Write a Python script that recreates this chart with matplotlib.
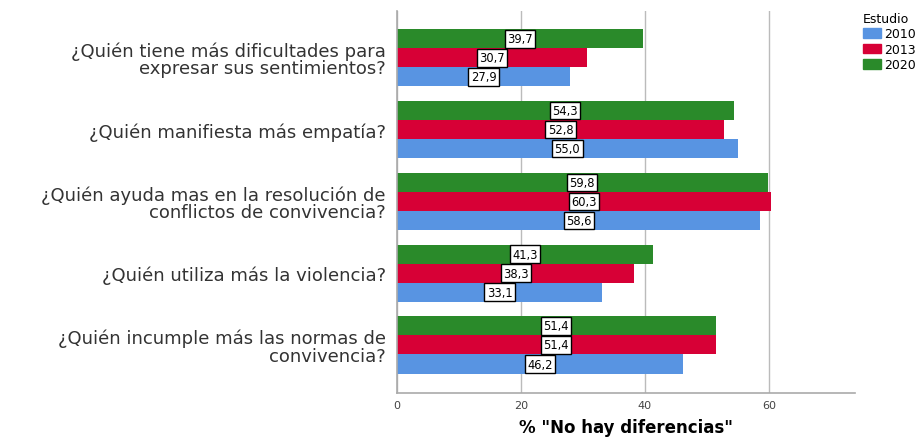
import matplotlib.pyplot as plt
import numpy as np
from matplotlib.patches import Patch

plt.rcParams['font.family'] = ['DejaVu Sans']

# preguntas (de arriba a abajo)
preguntas = [
    "¿Quién tiene más dificultades para\nexpresar sus sentimientos?",
    "¿Quién manifiesta más empatía?",
    "¿Quién ayuda mas en la resolución de\nconflictos de convivencia?",
    "¿Quién utiliza más la violencia?",
    "¿Quién incumple más las normas de\nconvivencia?",
]
anios = ["2010", "2013", "2020"]
v2010 = [27.9, 55.0, 58.6, 33.1, 46.2]
v2013 = [30.7, 52.8, 60.3, 38.3, 51.4]
v2020 = [39.7, 54.3, 59.8, 41.3, 51.4]
colores = ['#5894E2', '#D70036', '#2A8A2A']

fig = plt.figure(figsize=(9.22, 4.39), dpi=100)
ax = fig.add_axes([0.4306, 0.1025, 0.4967, 0.8705])

y = np.arange(len(preguntas))
h = 0.265
series = [v2010, v2013, v2020]
offsets = [h, 0, -h]
for vals, off, col in zip(series, offsets, colores):
    ax.barh(y + off, vals, height=h, color=col, zorder=2)
    for yi, v in zip(y, vals):
        ax.text(v / 2, yi + off, f"{v:.1f}".replace('.', ','), ha='center', va='center',
                fontsize=8.3, zorder=3,
                bbox=dict(boxstyle='square,pad=0.2', fc='white', ec='black', lw=1.0))

ax.set_ylim(4.669, -0.655)
ax.set_xlim(0, 73.9)
ax.set_yticks(y)
ax.set_yticklabels(preguntas, fontsize=13, color='#333333', linespacing=0.95)
ax.set_xticks([0, 20, 40, 60])
ax.tick_params(axis='x', labelsize=8, colors='#444444', length=0, pad=5)
ax.tick_params(axis='y', length=0, pad=8)
ax.grid(axis='x', color='#BBBBBB', lw=1, zorder=0)
for s in ['top', 'right']:
    ax.spines[s].set_visible(False)
for s in ['left', 'bottom']:
    ax.spines[s].set_color('#AAAAAA')
    ax.spines[s].set_linewidth(1.2)
ax.set_xlabel('% "No hay diferencias"', fontsize=12, fontweight='bold', labelpad=6)

handles = [Patch(color=c, label=a) for c, a in zip(colores, anios)]
leg = fig.legend(handles=handles, title='Estudio', loc='upper left',
                 bbox_to_anchor=(0.929, 0.985), frameon=False, fontsize=9,
                 title_fontsize=9, handlelength=1.45, handleheight=0.85,
                 handletextpad=0.25, labelspacing=0.2, borderpad=0)
leg._legend_box.align = 'left'

fig.savefig('out.png', dpi=100)
